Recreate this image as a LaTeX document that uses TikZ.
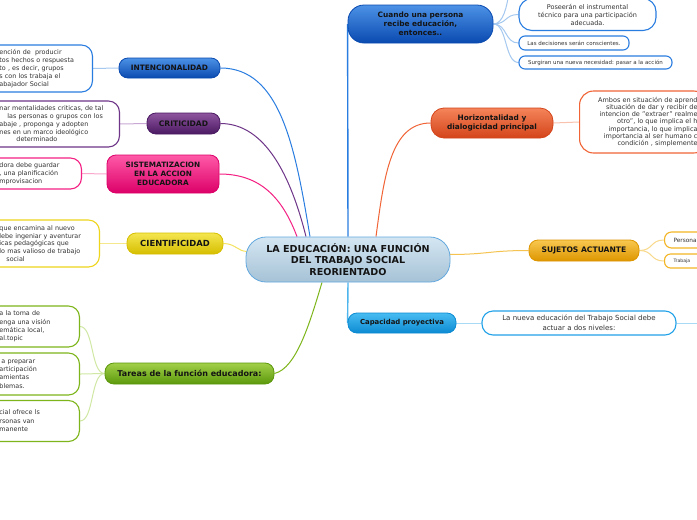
\documentclass[tikz,border=0pt]{standalone}
\usepackage{fontspec}
\setmainfont{DejaVu Sans}
\usetikzlibrary{positioning, calc, backgrounds}
\definecolor{dkink}{HTML}{141414}
\definecolor{leafink}{HTML}{333333}
\definecolor{centT}{HTML}{D4E6F2}
\definecolor{centB}{HTML}{A6C2D6}
\definecolor{centline}{HTML}{63A8DE}
\definecolor{blueT}{HTML}{4C92E6}
\definecolor{blueB}{HTML}{0A4AB0}
\definecolor{blueline}{HTML}{2A7DE0}
\definecolor{bluelite}{HTML}{A5C8F0}
\definecolor{purT}{HTML}{8F559F}
\definecolor{purB}{HTML}{4A1A62}
\definecolor{purline}{HTML}{6E3588}
\definecolor{purlite}{HTML}{C9A8D6}
\definecolor{pinkT}{HTML}{FF5AA8}
\definecolor{pinkB}{HTML}{DC0068}
\definecolor{pinkline}{HTML}{F41F82}
\definecolor{pinklite}{HTML}{F9A8CC}
\definecolor{yelT}{HTML}{F4E650}
\definecolor{yelB}{HTML}{D6BE00}
\definecolor{yelline}{HTML}{EFD51C}
\definecolor{yellite}{HTML}{F5E88C}
\definecolor{grnT}{HTML}{A2D048}
\definecolor{grnB}{HTML}{5C980C}
\definecolor{grnline}{HTML}{7DB51A}
\definecolor{grnlite}{HTML}{D0E8A4}
\definecolor{ornT}{HTML}{F5845A}
\definecolor{ornB}{HTML}{D4441A}
\definecolor{ornline}{HTML}{F06436}
\definecolor{ornlite}{HTML}{F9C2AE}
\definecolor{golT}{HTML}{F8C850}
\definecolor{golB}{HTML}{DE9600}
\definecolor{golline}{HTML}{F3B524}
\definecolor{gollite}{HTML}{F8D98A}
\definecolor{skyT}{HTML}{48BCF2}
\definecolor{skyB}{HTML}{0C8AD2}
\definecolor{skyline}{HTML}{22A2E8}
\definecolor{skylite}{HTML}{A8DAF6}

\begin{document}
\begin{tikzpicture}[x=1pt, y=-1pt, line width=1pt,
  topic/.style 2 args={
    top color=#1, bottom color=#2, draw=#2, line width=0.8pt,
    rounded corners=9pt, align=center, inner sep=1pt, text=dkink,
    font=\bfseries\fontsize{7.4}{9}\selectfont
  },
  leaf/.style={
    draw=#1, fill=white, line width=1.1pt, rounded corners=11pt,
    text=leafink, inner ysep=2pt, font=\fontsize{6.4}{8}\selectfont
  },
  link/.style={draw=#1, line width=1pt}]

% Frame
\useasboundingbox (0,0) rectangle (697,520);
\clip (0,0) rectangle (697,520);

% --- Central topic ---
\node[topic={centT}{centB}, draw=centline, rounded corners=20pt,
      minimum width=204pt, minimum height=45pt,
      font=\bfseries\fontsize{9.6}{11.5}\selectfont] (centro) at (348,259.5)
  {LA EDUCACIÓN: UNA FUNCIÓN\\DEL TRABAJO SOCIAL\\REORIENTADO};

% --- Left branches ---
\node[topic={blueT}{blueB}, minimum width=101pt, minimum height=20pt] (intenc) at (169.5,68)
  {INTENCIONALIDAD};
\node[leaf=blueline, anchor=east, text width=83pt, align=left, inner xsep=10pt,
      minimum height=47pt] (intleaf) at (93,68.5)
  {ención de\ \ producir\\tos hechos o respuesta\\to , es decir, grupos\\s con los trabaja el\\abajador Social};

\node[topic={purT}{purB}, minimum width=73pt, minimum height=21pt,
      font=\bfseries\fontsize{7.6}{9}\selectfont] (critic) at (183.5,123.5)
  {CRITICIDAD};
\node[leaf=purline, anchor=east, text width=110pt, align=left, inner xsep=10pt,
      minimum height=46pt, font=\fontsize{6.4}{7.7}\selectfont] (critleaf) at (120,124)
  {nar mentalidades criticas, de tal\\\hspace*{8pt}las personas o grupos con los\\abaje , proponga y adopten\\nes en un marco ideológico\\\hspace*{17pt}determinado};

\node[topic={pinkT}{pinkB}, minimum width=112pt, minimum height=38pt,
      font=\bfseries\fontsize{7.3}{9}\selectfont] (sistem) at (163,174)
  {SISTEMATIZACION\\EN LA ACCION\\EDUCADORA};
\node[leaf=pinkline, anchor=east, text width=72pt, align=left, inner xsep=10pt,
      minimum height=31pt] (sistleaf) at (82,173.5)
  {dora debe guardar\\, una planificación\\mprovisacion};

\node[topic={yelT}{yelB}, minimum width=96pt, minimum height=21pt,
      font=\bfseries\fontsize{8.4}{9}\selectfont] (cienti) at (175,243.5)
  {CIENTIFICIDAD};
\node[leaf=yelline, anchor=east, text width=90pt, align=left, inner xsep=10pt,
      minimum height=47pt, font=\fontsize{6.4}{7.7}\selectfont] (cienleaf) at (100,243.5)
  {que encamina al nuevo\\lebe ingeniar y aventurar\\icas pedagógicas que\\lo mas valioso de trabajo\\\hspace*{7pt}social};

\node[topic={grnT}{grnB}, minimum width=169pt, minimum height=21pt,
      font=\bfseries\fontsize{8}{9}\selectfont] (tareas) at (189.5,373.5)
  {Tareas de la función educadora:};
\node[leaf=grnline, anchor=east, text width=70pt, align=left, inner xsep=10pt,
      minimum height=41pt, font=\fontsize{6.4}{8.4}\selectfont] (tarea1) at (80,326.5)
  {a la toma de\\enga una visión\\emática local,\\al.topic};
\node[leaf=grnline, anchor=east, text width=70pt, align=left, inner xsep=10pt,
      minimum height=42pt, font=\fontsize{6.4}{8.4}\selectfont] (tarea2) at (80,374)
  {\hspace*{2pt}a preparar\\articipación\\amientas\\blemas.};
\node[leaf=grnline, anchor=east, text width=70pt, align=left, inner xsep=10pt,
      minimum height=41pt, font=\fontsize{6.4}{8.4}\selectfont] (tarea3) at (80,421)
  {cial ofrece ls\\rsonas van\\manente};

% --- Right branches ---
\node[topic={blueT}{blueB}, minimum width=145pt, minimum height=38pt, rounded corners=16pt] (cuando) at (420.5,24)
  {Cuando una persona\\recibe educación,\\entonces..};
\node[leaf=blueline, minimum width=137pt, minimum height=32pt, align=center,
      rounded corners=13pt, font=\fontsize{6.5}{8}\selectfont] (posee) at (587.5,14.5)
  {Poseerán el instrumental\\técnico para una participación\\adecuada.};
\node[leaf=blueline, minimum width=110pt, minimum height=14pt, rounded corners=6pt,
      font=\fontsize{5.5}{6}\selectfont] (decis) at (574,43)
  {Las decisiones serán conscientes.};
\node[leaf=blueline, minimum width=153pt, minimum height=13pt, rounded corners=6pt,
      font=\fontsize{5.5}{6}\selectfont] (surge) at (595.5,62.5)
  {Surgiran una nueva necesidad: pasar a la acción};
\coordinate (cuandoup) at (509,-8);

\node[topic={ornT}{ornB}, minimum width=122pt, minimum height=30pt, rounded corners=13pt] (horiz) at (492,123)
  {Horizontalidad y\\dialogicidad principal};
\node[leaf=ornline, anchor=west, text width=108pt, align=right, inner xsep=10pt,
      minimum height=62pt, rounded corners=14pt, font=\fontsize{6.5}{7.1}\selectfont] (horleaf) at (579,122)
  {Ambos en situación de aprend\\situación de dar y recibir de\\intencion de "extraer" realme\\otro", lo que implica el h\\importancia, lo que implica\\importancia al ser humano c\\condición , simplemente};

\node[topic={golT}{golB}, minimum width=110pt, minimum height=21pt,
      font=\bfseries\fontsize{7.6}{9}\selectfont] (sujetos) at (584,250.5)
  {SUJETOS ACTUANTE};
\node[leaf=golline, anchor=west, text width=40pt, align=left, inner xsep=9pt,
      minimum height=16pt, rounded corners=7pt, font=\fontsize{5.8}{7}\selectfont] (persona) at (664,240)
  {Persona};
\node[leaf=golline, anchor=west, text width=40pt, align=left, inner xsep=9pt,
      minimum height=14pt, rounded corners=6pt, font=\fontsize{4.6}{6}\selectfont] (trabaja) at (664,261)
  {Trabaja};

\node[topic={skyT}{skyB}, minimum width=108pt, minimum height=20pt,
      font=\bfseries\fontsize{6.9}{8}\selectfont] (capac) at (402,323)
  {Capacidad proyectiva};
\node[leaf=skyline, minimum width=194pt, minimum height=24pt, align=center,
      font=\fontsize{7}{10}\selectfont] (capleaf) at (579,323)
  {La nueva educación del Trabajo Social debe\\actuar a dos niveles:};
\coordinate (capout) at (710,323);

% --- Connectors (behind the nodes) ---
\begin{pgfonlayer}{background}
\fill[white] (0,0) rectangle (697,520);
\draw[link=blueline] (intenc.east) .. controls +(60,0) and +(-15,-90) .. ($(centro.north)+(-38,0)$);
\draw[link=purline] (critic.east) .. controls +(45,0) and +(-15,-60) .. ($(centro.north)+(-42,0)$);
\draw[link=pinkline] (sistem.east) .. controls +(40,0) and +(-15,-40) .. ($(centro.north)+(-51,0)$);
\draw[link=yelline!70] (cienti.east) .. controls +(12,0) and +(-10,0) .. ($(centro.west)+(2,-8)$);
\draw[link=grnline] (tareas.east) .. controls +(22,-5) and +(-12,40) .. ($(centro.south)+(-26,0)$);
\draw[link=blueline, line width=1.4pt] (centro.north) -- (cuando.west);
\draw[link=ornline] ($(centro.north)+(28,0)$) .. controls +(8,-60) and +(-40,0) .. (horiz.west);
\draw[link=golline!80] ($(centro.east)+(-2,-5)$) .. controls +(40,0) and +(-40,0) .. (sujetos.west);
\draw[link=skyline!80, line width=1.4pt] (centro.south) -- (capac.west);

% leaves
\draw[link=bluelite] (intenc.west) -- (intleaf.east);
\draw[link=purlite] (critic.west) -- (critleaf.east);
\draw[link=pinklite] (sistem.west) -- (sistleaf.east);
\draw[link=yellite] (cienti.west) -- (cienleaf.east);
\foreach \t in {tarea1, tarea2, tarea3}
  \draw[link=grnlite] (tareas.west) .. controls +(-14,0) and +(14,0) .. (\t.east);
\foreach \t in {posee, decis, surge}
  \draw[link=bluelite] (cuando.east) .. controls +(14,0) and +(-14,0) .. (\t.west);
\draw[link=bluelite] (cuando.east) .. controls +(10,0) and +(-2,14) .. (cuandoup);
\draw[link=ornlite] (horiz.east) -- (horleaf.west);
\foreach \t in {persona, trabaja}
  \draw[link=gollite] (sujetos.east) .. controls +(14,0) and +(-14,0) .. (\t.west);
\draw[link=skylite] (capac.east) -- (capleaf.west);
\draw[link=skylite] (capleaf.east) -- (capout);
\end{pgfonlayer}

\end{tikzpicture}
\end{document}
